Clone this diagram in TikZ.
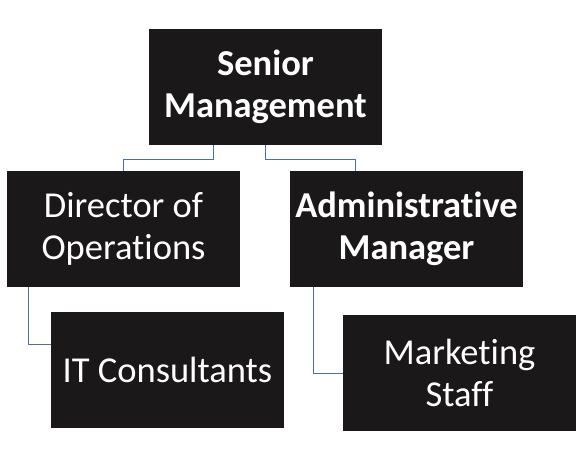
\documentclass[tikz,border=0pt]{standalone}
\usepackage{fontspec}
\setmainfont[RawFeature={-liga;-clig;-calt;-dlig}]{Carlito}
\usepackage{tikz}
\usetikzlibrary{positioning}

\definecolor{boxfill}{HTML}{1A1818}
\definecolor{linkblue}{HTML}{4A6EA8}

\begin{document}
\begin{tikzpicture}[
    x=1pt, y=-1pt,
    role/.style={fill=boxfill, text=white, minimum width=233pt, minimum height=116pt,
        inner sep=0pt, align=center, font=\fontsize{36.5}{42}\selectfont},
    boss/.style={role, font=\fontsize{36.5}{42}\selectfont\bfseries},
    link/.style={draw=linkblue, line width=0.9pt}
]
\useasboundingbox (0,0) rectangle (584,450);

% Top
\node[boss] (senior) at (265.5,87) {Senior\\Management};

% Second row
\node[role] (director) at (123.5,229) {Director of\\Operations};
\node[boss] (admin) at (406.5,229) {Administrative\\Manager};

% Third row
\node[role] (it) at (167.5,370) {IT Consultants};
\node[role] (marketing) at (459.5,373) {Marketing\\Staff};

% Connectors
\draw[link] ([xshift=-52pt]senior.south) -- ++(0,14) -| (director.north);
\draw[link] (senior.south) -- ++(0,14) -| ([xshift=-51.5pt]admin.north);
\draw[link] ([xshift=22pt]director.south west) |- ([yshift=26pt]it.west);
\draw[link] ([xshift=24pt]admin.south west) |- (marketing.west);

\end{tikzpicture}
\end{document}
